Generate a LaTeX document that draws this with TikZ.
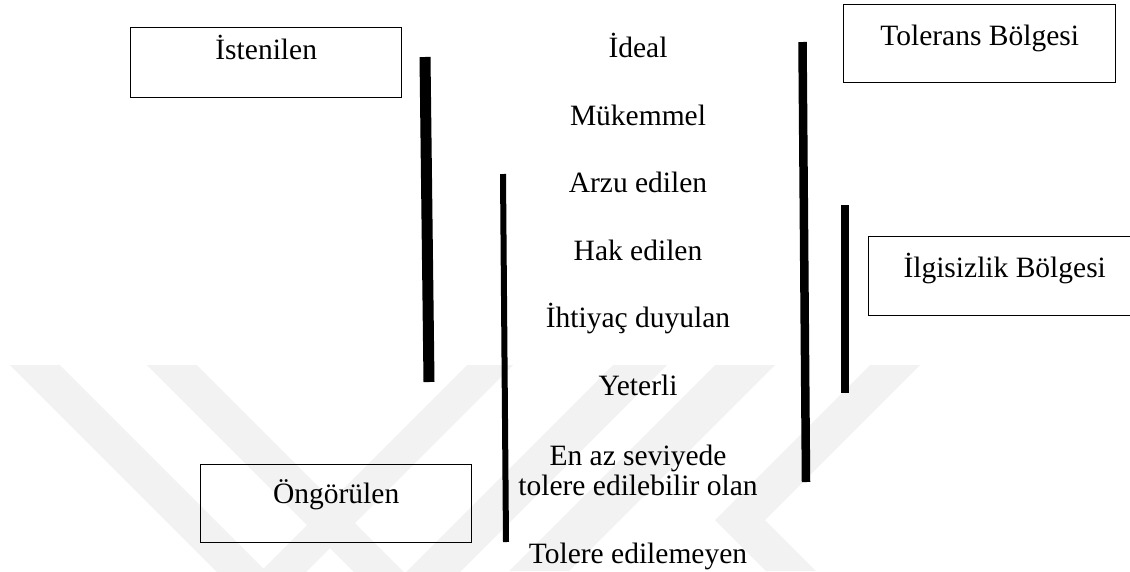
\documentclass[tikz,border=0pt]{standalone}
\usepackage{fontspec}
\setmainfont{Liberation Serif}
\definecolor{wmgray}{RGB}{242,242,242}
\begin{document}
\begin{tikzpicture}[x=1pt,y=-1pt,
  lbl/.style={font=\fontsize{29.5}{30}\selectfont, inner sep=0pt, anchor=base, align=center},
  box/.style={draw, line width=1.4pt, inner sep=0pt, anchor=north west,
              font=\fontsize{29.5}{30}\selectfont},
  bar/.style={line cap=butt}]
\useasboundingbox (0,0) rectangle (1130,571);
\begin{scope}
  \clip (0,0) rectangle (1130,571);
  % faint background emblem
  \fill[wmgray] (10,365) -- (60,365) -- (263.5,568.5) -- (467,365) -- (513,365) -- (261.5,616.5) -- cycle;
  \fill[wmgray] (147,365) -- (197,365) -- (405,573) -- (613,365) -- (667,365) -- (407,625) -- cycle;
  \fill[wmgray] (715,365) -- (775,365) -- (569,571) -- (509,571) -- cycle;
  \fill[wmgray] (870,365) -- (920,365) -- (765,520) -- (816,571) -- (766,571) -- (715,520) -- cycle;

  % boxes
  \node[box, minimum width=271pt, text height=32pt, text depth=38pt] (ist) at (130,27) {İstenilen};
  \node[box, minimum width=272pt, text height=41pt, text depth=37pt] (tol) at (843,4) {Tolerans Bölgesi};
  \node[box, minimum width=272pt, text height=41pt, text depth=38pt] (ilg) at (868,236) {İlgisizlik Bölgesi};
  \node[box, minimum width=271pt, text height=39pt, text depth=39pt] (ong) at (200,464) {Öngörülen};

  % scale of levels
  \node[lbl] (ideal) at (638,57) {İdeal};
  \node[lbl] (muk)   at (638,125) {Mükemmel};
  \node[lbl] (arzu)  at (638,192) {Arzu edilen};
  \node[lbl] (hak)   at (638,260) {Hak edilen};
  \node[lbl] (iht)   at (638,327) {İhtiyaç duyulan};
  \node[lbl] (yet)   at (638,395) {Yeterli};
  \node[lbl] (enaz)  at (638,495) {En az seviyede\\tolere edilebilir olan};
  \node[lbl] (tolx)  at (638,563) {Tolere edilemeyen};

  % range bars
  \coordinate (b1t) at (425,57);   \coordinate (b1b) at (429,382);
  \coordinate (b2t) at (503,174);  \coordinate (b2b) at (506,542);
  \coordinate (b3t) at (802.5,42); \coordinate (b3b) at (806,482);
  \coordinate (b4t) at (845,205);  \coordinate (b4b) at (845,393);
  \draw[bar, line width=11pt]  (b1t) -- (b1b);
  \draw[bar, line width=6pt]   (b2t) -- (b2b);
  \draw[bar, line width=8.5pt] (b3t) -- (b3b);
  \draw[bar, line width=8pt]   (b4t) -- (b4b);
\end{scope}
\end{tikzpicture}
\end{document}
